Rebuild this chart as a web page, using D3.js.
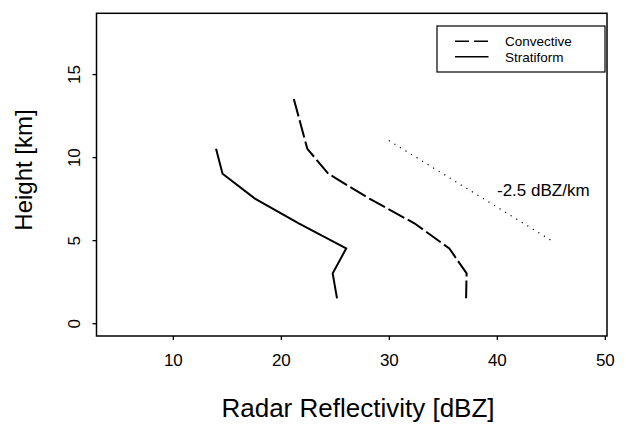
<!DOCTYPE html>
<html>
<head>
<meta charset="utf-8">
<script src="https://cdn.jsdelivr.net/npm/d3@7"></script>
<style>
  html, body { margin: 0; padding: 0; background: #fff; }
  svg { display: block; }
  text { font-family: "Liberation Sans", Arial, Helvetica, sans-serif; fill: #000; }
</style>
</head>
<body>
<svg id="chart" width="626" height="424"></svg>
<script>
// Mean reflectivity profiles: [reflectivity dBZ, height km]
const convective = [
  [21.2, 13.5], [22.45, 10.5], [24.4, 9.0], [28.2, 7.5],
  [32.4, 6.0], [35.6, 4.5], [37.2, 3.0], [37.15, 1.5]
];
const stratiform = [
  [14.0, 10.5], [14.6, 9.0], [17.6, 7.5], [21.7, 6.0],
  [26.05, 4.5], [24.8, 3.0], [25.2, 1.5]
];
// Reference slope of -2.5 dBZ per km
const slopeLine = [[30, 11], [45, 5]];
const slopeLabel = "-2.5 dBZ/km";

const xTicks = [10, 20, 30, 40, 50];
const yTicks = [0, 5, 10, 15];
const xTitle = "Radar Reflectivity [dBZ]";
const yTitle = "Height [km]";
const seriesNames = ["Convective", "Stratiform"];

const svg = d3.select("#chart");
const plot = { left: 96.5, right: 607, top: 13.3, bottom: 336 };

const x = d3.scaleLinear().domain([2.93, 50.2]).range([plot.left, plot.right]);
const y = d3.scaleLinear().domain([-0.77, 18.66]).range([plot.bottom, plot.top]);

// Frame
svg.append("rect")
  .attr("x", plot.left).attr("y", plot.top)
  .attr("width", plot.right - plot.left).attr("height", plot.bottom - plot.top)
  .attr("fill", "none").attr("stroke", "#000").attr("stroke-width", 1.5);

// Axes
const xAxis = svg.append("g")
  .attr("transform", `translate(0,${plot.bottom})`)
  .call(d3.axisBottom(x).tickValues(xTicks).tickSize(4).tickPadding(14).tickFormat(d3.format("d")));
xAxis.select(".domain").remove();
xAxis.selectAll("line").attr("stroke-width", 1.3);
xAxis.selectAll("text").attr("font-size", 17).attr("font-family", null);

const yAxis = svg.append("g")
  .attr("transform", `translate(${plot.left},0)`)
  .call(d3.axisLeft(y).tickValues(yTicks).tickSize(4).tickFormat(d3.format("d")));
yAxis.select(".domain").remove();
yAxis.selectAll("line").attr("stroke-width", 1.3);
yAxis.selectAll("text")
  .attr("font-size", 17).attr("font-family", null)
  .attr("text-anchor", "middle")
  .attr("x", null).attr("dy", null)
  .attr("transform", "translate(-16.5,0) rotate(-90)");

// Axis titles
svg.append("text")
  .attr("x", 358).attr("y", 417)
  .attr("text-anchor", "middle").attr("font-size", 26)
  .text(xTitle);
svg.append("text")
  .attr("transform", "translate(32,170) rotate(-90)")
  .attr("text-anchor", "middle").attr("font-size", 24)
  .text(yTitle);

// Profiles
const line = d3.line().x(d => x(d[0])).y(d => y(d[1]));
svg.append("path").datum(convective)
  .attr("d", line).attr("fill", "none").attr("stroke", "#000")
  .attr("stroke-width", 2).attr("stroke-dasharray", "18,4");
svg.append("path").datum(stratiform)
  .attr("d", line).attr("fill", "none").attr("stroke", "#000")
  .attr("stroke-width", 2);

// Slope guide
svg.append("path").datum(slopeLine)
  .attr("d", line).attr("fill", "none").attr("stroke", "#000")
  .attr("stroke-width", 1.2).attr("stroke-dasharray", "1.2,5.3");
svg.append("text")
  .attr("x", 497).attr("y", 196).attr("font-size", 17)
  .text(slopeLabel);

// Legend
const legend = svg.append("g");
legend.append("rect")
  .attr("x", 437).attr("y", 26).attr("width", 168).attr("height", 46)
  .attr("fill", "#fff").attr("stroke", "#000").attr("stroke-width", 1.2);
const rows = [
  { name: seriesNames[0], dash: "14,5", yy: 41.2 },
  { name: seriesNames[1], dash: null, yy: 56.8 }
];
rows.forEach(r => {
  legend.append("line")
    .attr("x1", 455).attr("x2", 488.5).attr("y1", r.yy).attr("y2", r.yy)
    .attr("stroke", "#000").attr("stroke-width", 1.5)
    .attr("stroke-dasharray", r.dash);
  legend.append("text")
    .attr("x", 505).attr("y", r.yy + 4.8).attr("font-size", 13.5)
    .text(r.name);
});
</script>
</body>
</html>
